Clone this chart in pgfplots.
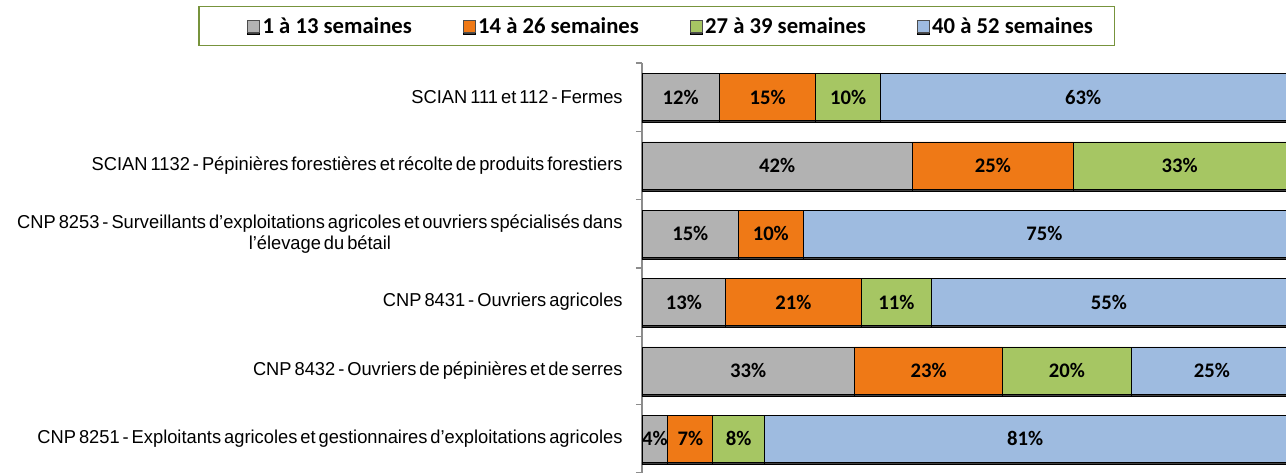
\documentclass[border=0pt]{standalone}
\usepackage{pgfplots}
\pgfplotsset{compat=1.18}
\usepackage{pgfplotstable}
\usepackage{fontspec}
\usetikzlibrary{shadows}
\setmainfont{Carlito}
\newfontfamily\labfont[FakeStretch=0.98]{Liberation Sans}
\newcommand\labstyle{\labfont\fontsize{14}{15.5}\selectfont\spaceskip=0.16em\relax}
\definecolor{cgray}{RGB}{178,178,178}
\definecolor{corange}{RGB}{239,121,22}
\definecolor{cgreen}{RGB}{166,198,99}
\definecolor{cblue}{RGB}{158,187,224}
\definecolor{cframe}{RGB}{119,147,60}
\pgfplotsset{
  legsq/.style={legend image code/.code={\draw[fill=#1, draw=black!70, line width=0.7pt] (1pt,-4.5pt) rectangle (10pt,4.5pt);}},
  legsqfirst/.style={legend image code/.code={\path (-21pt,0pt); \draw[fill=#1, draw=black!70, line width=0.7pt] (1pt,-4.5pt) rectangle (10pt,4.5pt);}},
  shd/.style={drop shadow={shadow xshift=0pt, shadow yshift=-1.6pt, fill=black!75, opacity=1}},
}
\pgfplotstableread{
row a b c d
0 12 15 10 63
1 42 25 33 0
2 15 10 0 75
3 13 21 11 55
4 33 23 20 25
5 4 7 8 81
}\data
\begin{document}
\begin{tikzpicture}[x=1pt,y=1pt]
\begin{axis}[at={(481.5pt,0pt)}, anchor=south west, scale only axis,
  width=490.2pt, height=307.5pt,
  xbar stacked, bar width=35.25pt,
  xmin=0, xmax=101.5, ymin=-0.5, ymax=5.5, y dir=reverse,
  hide x axis, axis y line*=left,
  /pgf/number format/assume math mode=true,
  y axis line style={draw=black!45, line width=0.9pt},
  ytick={0,...,5},
  yticklabels={SCIAN 111 et 112 - Fermes,
    SCIAN 1132 - Pépinières forestières et récolte de produits forestiers,
    {CNP 8253 - Surveillants d’exploitations agricoles et ouvriers spécialisés dans\\l’élevage du bétail},
    CNP 8431 - Ouvriers agricoles,
    CNP 8432 - Ouvriers de pépinières et de serres,
    CNP 8251 - Exploitants agricoles et gestionnaires d’exploitations agricoles},
  major tick length=0pt,
  minor ytick={-0.5,0.5,...,5.5}, minor tick length=4.5pt, tick align=outside,
  minor tick style={draw=black!45, line width=0.9pt},
  yticklabel style={font=\labstyle, align=center, xshift=-11pt},
  every axis plot/.append style={draw=black, line width=0.6pt},
  nodes near coords={\pgfmathfloatifflags{\pgfplotspointmeta}{0}{}{\pgfmathprintnumber{\pgfplotspointmeta}\%}},
  every node near coord/.append style={font=\bfseries\fontsize{15.5}{16}\selectfont, text=black},
  legend columns=4,
  legend style={at={(rel axis cs:0.0225,1.09)}, anchor=center, draw=cframe, line width=1pt,
    font=\bfseries\fontsize{17}{19}\selectfont, inner xsep=14pt, inner ysep=6pt,
    /tikz/every even column/.append style={column sep=36pt}},
]
\addplot[fill=cgray, shd, legsqfirst=cgray] table[x=a, y=row] {\data};
\addplot[fill=corange, shd, legsq=corange] table[x=b, y=row] {\data};
\addplot[fill=cgreen, shd, legsq=cgreen] table[x=c, y=row] {\data};
\addplot[fill=cblue, shd, legsq=cblue] table[x=d, y=row] {\data};
\legend{1 à 13 semaines, 14 à 26 semaines, 27 à 39 semaines, 40 à 52 semaines}
\end{axis}
\pgfresetboundingbox
\path[use as bounding box] (0,0) rectangle (964.5,354.75);
\end{tikzpicture}
\end{document}
